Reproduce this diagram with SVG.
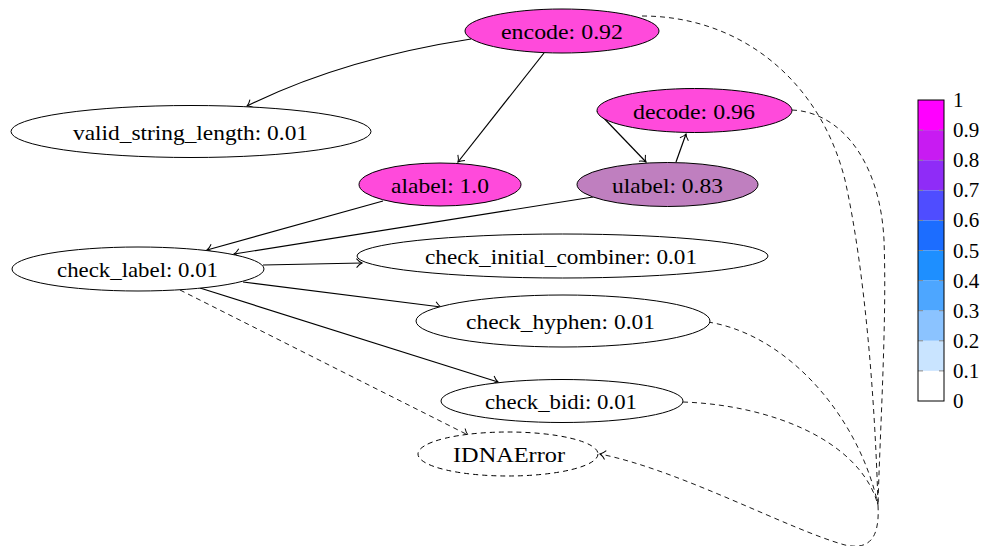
<svg xmlns="http://www.w3.org/2000/svg" width="984" height="546" viewBox="0 0 984 546">
<style>
  .n { stroke:#000; stroke-width:1; }
  .w { fill:#fff; }
  .p { fill:#FF4ADB; }
  .u { fill:#BF7FBF; }
  .dn { fill:#fff; stroke-dasharray:5,4; }
  text { font-family:"Liberation Serif","Times New Roman",serif; font-size:22px; fill:#000; text-anchor:middle; }
  .e { fill:none; stroke:#000; stroke-width:1.2; marker-end:url(#arr); }
  .d { fill:none; stroke:#000; stroke-width:0.9; stroke-dasharray:5,4; }
  .dm { marker-end:url(#arr); }
  .cb text { font-size:21px; text-anchor:start; }
  .tick { stroke:#888; stroke-width:1; }
</style>
<defs>
  <marker id="arr" markerUnits="userSpaceOnUse" markerWidth="14" markerHeight="14" viewBox="-8 -7 10 14" refX="0" refY="0" orient="auto">
    <path d="M-5.5,-4.5 C-3.5,-2 -1.5,-0.6 0,0 C-1.5,0.6 -3.5,2 -5.5,4.5" fill="none" stroke="#000" stroke-width="1"/>
  </marker>
</defs>
<rect width="984" height="546" fill="#fff"/>

<g id="connectors">
  <path class="e" d="M471,39 C400,50 320,70 247,106"/>
  <path class="e" d="M544,53 L458,162"/>
  <path class="e" d="M597,111 L646,162"/>
  <path class="e" d="M676,162 L686,134"/>
  <path class="e" d="M383,201 L207,250"/>
  <path class="e" d="M593,197 L234,254"/>
  <path class="e" d="M263,265 L362,263"/>
  <path class="e" d="M243,282 L441,307"/>
  <path class="e" d="M200,288 L498,382"/>
  <path class="d dm" d="M180,290 L468,435"/>
  <path class="d" d="M642,16 C740,16 820,80 845,180 C865,270 875,400 878,505"/>
  <path class="d" d="M792,110 C840,112 880,160 884,240 C887,320 880,430 878,505"/>
  <path class="d" d="M708,322 C790,335 860,420 878,505"/>
  <path class="d" d="M683,402 C770,405 860,440 878,505"/>
  <path class="d dm" d="M878,505 C880,540 868,550 845,545 C790,530 680,470 600,454"/>
</g>

<g id="encode"><ellipse class="n p" cx="562" cy="31" rx="97" ry="22"/><text x="562" y="39" textLength="122" lengthAdjust="spacingAndGlyphs">encode: 0.92</text></g>
<g id="valid_string_length"><ellipse class="n w" cx="191" cy="131.5" rx="180" ry="26"/><text x="190.5" y="139.5" textLength="235" lengthAdjust="spacingAndGlyphs">valid_string_length: 0.01</text></g>
<g id="decode"><ellipse class="n p" cx="694.5" cy="110.5" rx="97.5" ry="22"/><text x="694" y="118.5" textLength="122" lengthAdjust="spacingAndGlyphs">decode: 0.96</text></g>
<g id="alabel"><ellipse class="n p" cx="440" cy="184.5" rx="81" ry="21.5"/><text x="440" y="192.5" textLength="98" lengthAdjust="spacingAndGlyphs">alabel: 1.0</text></g>
<g id="ulabel"><ellipse class="n u" cx="667.5" cy="184.5" rx="90.5" ry="22"/><text x="667.5" y="192.5" textLength="111" lengthAdjust="spacingAndGlyphs">ulabel: 0.83</text></g>
<g id="check_label"><ellipse class="n w" cx="138" cy="269" rx="126" ry="22"/><text x="137.5" y="277" textLength="161" lengthAdjust="spacingAndGlyphs">check_label: 0.01</text></g>
<g id="check_initial_combiner"><ellipse class="n w" cx="562.5" cy="256" rx="205.5" ry="22"/><text x="561" y="264" textLength="272" lengthAdjust="spacingAndGlyphs">check_initial_combiner: 0.01</text></g>
<g id="check_hyphen"><ellipse class="n w" cx="563" cy="321" rx="147" ry="26"/><text x="560.5" y="329" textLength="189" lengthAdjust="spacingAndGlyphs">check_hyphen: 0.01</text></g>
<g id="check_bidi"><ellipse class="n w" cx="562" cy="401" rx="121" ry="21.5"/><text x="561" y="409" textLength="152" lengthAdjust="spacingAndGlyphs">check_bidi: 0.01</text></g>
<g id="IDNAError"><ellipse class="n dn" cx="508" cy="454" rx="90" ry="22"/><text x="509" y="462" textLength="112" lengthAdjust="spacingAndGlyphs">IDNAError</text></g>

<g id="colorbar" class="cb">
  <rect x="918" y="100" width="26" height="30.1" fill="#FF00FF"/>
  <rect x="918" y="130.1" width="26" height="30.1" fill="#C81BF2"/>
  <rect x="918" y="160.2" width="26" height="30.1" fill="#8F2CF7"/>
  <rect x="918" y="190.3" width="26" height="30.1" fill="#4F4DFF"/>
  <rect x="918" y="220.4" width="26" height="30.1" fill="#1C6DFF"/>
  <rect x="918" y="250.5" width="26" height="30.1" fill="#1E8FFF"/>
  <rect x="918" y="280.6" width="26" height="30.1" fill="#4DA6FF"/>
  <rect x="918" y="310.7" width="26" height="30.1" fill="#8BC3FF"/>
  <rect x="918" y="340.8" width="26" height="30.1" fill="#C9E4FF"/>
  <rect x="918" y="370.9" width="26" height="30.1" fill="#FFFFFF"/>
  <path class="tick" d="M918,130.1h5M939,130.1h5M918,160.2h5M939,160.2h5M918,190.3h5M939,190.3h5M918,220.4h5M939,220.4h5M918,250.5h5M939,250.5h5M918,280.6h5M939,280.6h5M918,310.7h5M939,310.7h5M918,340.8h5M939,340.8h5M918,370.9h5M939,370.9h5"/>
  <rect x="918" y="100" width="26" height="301" fill="none" stroke="#000" stroke-width="1"/>
  <text x="953" y="107">1</text>
  <text x="953" y="137.1">0.9</text>
  <text x="953" y="167.2">0.8</text>
  <text x="953" y="197.3">0.7</text>
  <text x="953" y="227.4">0.6</text>
  <text x="953" y="257.5">0.5</text>
  <text x="953" y="287.6">0.4</text>
  <text x="953" y="317.7">0.3</text>
  <text x="953" y="347.8">0.2</text>
  <text x="953" y="377.9">0.1</text>
  <text x="953" y="408">0</text>
</g>
</svg>
